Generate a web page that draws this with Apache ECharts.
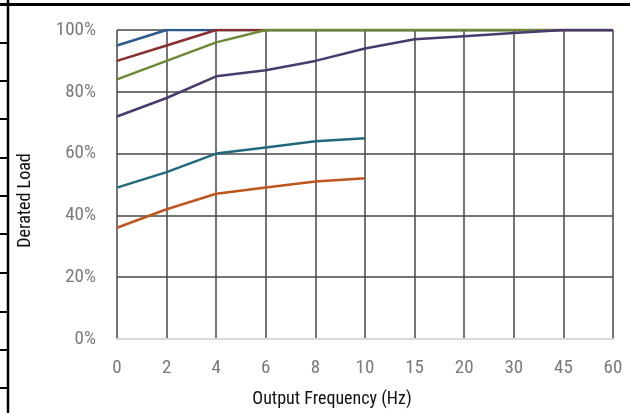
<!DOCTYPE html>
<html>
<head>
<meta charset="utf-8">
<script src="https://cdn.jsdelivr.net/npm/echarts@6/dist/echarts.min.js"></script>
<style>
html,body{margin:0;padding:0;background:#fff;}
#chart{width:638px;height:413px;}
</style>
</head>
<body>
<div id="chart"></div>
<script>
var categories = ['0','2','4','6','8','10','15','20','30','45','60'];
var seriesBlue   = [95,100,100,100,100,100,100,100,100,100,100];
var seriesRed    = [90,95,100,100,100,100,100,100,100,100,100];
var seriesGreen  = [84,90,96,100,100,100,100,100,100,100,100];
var seriesPurple = [72,78,85,87,90,94,97,98,99,100,100];
var seriesTeal   = [49,54,60,62,64,65];
var seriesOrange = [36,42,47,49,51,52];
var yTicks = [0,20,40,60,80,100];

var FONT = '"Liberation Sans Narrow","Roboto Condensed","DejaVu Sans Condensed",Roboto,sans-serif';
var chart = echarts.init(document.getElementById('chart'));

function line(name, data, color){
  return {name:name, type:'line', data:data, symbol:'none', smooth:false,
    lineStyle:{color:color, width:2.5}, itemStyle:{color:color}, animation:false};
}

chart.setOption({
  animation:false,
  backgroundColor:'#fff',
  grid:{left:117, right:25, top:30, bottom:71},
  xAxis:{
    type:'category', data:categories, boundaryGap:false,
    name:'Output Frequency (Hz)', nameLocation:'middle', nameGap:51,
    nameTextStyle:{color:'#111', fontSize:18, fontFamily:FONT, padding:[0,66,0,0]},
    axisLine:{show:true, lineStyle:{color:'#d9d9d9', width:2}},
    axisTick:{show:false},
    axisLabel:{color:'#7a7a7a', fontSize:19, fontFamily:FONT, margin:20},
    splitLine:{show:true, lineStyle:{color:'#474747', width:1.5}}
  },
  yAxis:{
    type:'value', min:0, max:100, interval:20,
    name:'Derated Load', nameLocation:'middle', nameGap:83, nameRotate:90,
    nameTextStyle:{color:'#111', fontSize:18, fontFamily:FONT, padding:[0,32,0,0]},
    axisLine:{show:false}, axisTick:{show:false},
    axisLabel:{color:'#7a7a7a', fontSize:19, fontFamily:FONT, margin:21,
      formatter:function(v){return v+'%';}},
    splitLine:{show:true, lineStyle:{color:'#474747', width:1.5}}
  },
  series:[
    line('Orange', seriesOrange, '#c0561f'),
    line('Teal', seriesTeal, '#23697d'),
    line('Blue', seriesBlue, '#2a5b8c'),
    line('Red', seriesRed, '#8c2d2d'),
    line('Green', seriesGreen, '#6a8a35'),
    line('Purple', seriesPurple, '#4b3a6e')
  ],
  graphic:[
    {type:'line', shape:{x1:0,y1:4.5,x2:630,y2:4.5}, style:{stroke:'#000', lineWidth:3}},
    {type:'line', shape:{x1:8,y1:0,x2:8,y2:413}, style:{stroke:'#000', lineWidth:2.5}},
    {type:'group', children:[43,81,119,158,196,234,273,312,350,388].map(function(y){
      return {type:'line', shape:{x1:0,y1:y,x2:8,y2:y}, style:{stroke:'#000', lineWidth:2}};
    })}
  ]
});
</script>
</body>
</html>
